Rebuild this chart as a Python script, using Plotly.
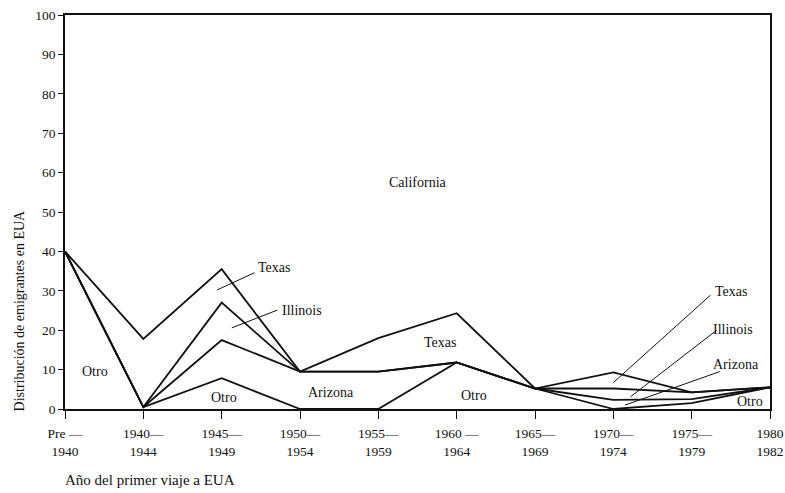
import plotly.graph_objects as go

# periodos (año del primer viaje)
periods = ["Pre-1940", "1940-1944", "1945-1949", "1950-1954", "1955-1959",
           "1960-1964", "1965-1969", "1970-1974", "1975-1979", "1980-1982"]
tick_labels = ["Pre —<br>1940", "1940—<br>1944", "1945—<br>1949", "1950—<br>1954",
               "1955—<br>1959", "1960 —<br>1964", "1965—<br>1969", "1970—<br>1974",
               "1975—<br>1979", "1980<br>1982"]

# límites acumulados entre regiones (porcentaje)
california_top_of_texas = [40, 17.8, 35.5, 9.5, 18, 24.3, 5.2, 9.3, 4.2, 5.5]
texas_top_of_illinois = [40, 0.5, 27, 9.5, 9.5, 11.8, 5.2, 5.2, 4.2, 5.5]
illinois_top_of_arizona = [40, 0.5, 17.5, 9.5, 9.5, 11.8, 5.2, 2.3, 2.5, 5.5]
arizona_top_of_otro = [40, 0.5, 7.8, 0, 0, 11.8, 5.2, 0, 1.5, 5.5]

xs = list(range(len(periods)))
serif = "Liberation Serif"
ink = "#111111"

fig = go.Figure()
for ys in [california_top_of_texas, texas_top_of_illinois,
           illinois_top_of_arizona, arizona_top_of_otro]:
    fig.add_trace(go.Scatter(x=xs, y=ys, mode="lines",
                             line=dict(color=ink, width=1.8),
                             showlegend=False, hoverinfo="skip", cliponaxis=False))

# etiquetas de regiones
labels = [
    ("California", 4.5, 57.4), ("Texas", 2.67, 35.8), ("Illinois", 3.02, 25.1),
    ("Otro", 0.38, 9.5), ("Otro", 2.03, 2.8), ("Arizona", 3.4, 4.3),
    ("Texas", 4.79, 16.8), ("Otro", 5.22, 3.4), ("Texas", 8.5, 29.8),
    ("Illinois", 8.53, 20.3), ("Arizona", 8.56, 11.3), ("Otro", 8.75, 1.8),
]
for txt, x, y in labels:
    fig.add_annotation(x=x, y=y, text=txt, showarrow=False,
                       font=dict(family=serif, size=14, color=ink))

# líneas guía
leaders = [
    (1.94, 30.2, 2.42, 34.6), (2.13, 20.6, 2.71, 25.1),
    (7.0, 6.7, 8.24, 28.9), (7.22, 3.1, 8.32, 20.0), (7.15, 1.0, 8.36, 9.5),
]
for x0, y0, x1, y1 in leaders:
    fig.add_shape(type="line", x0=x0, y0=y0, x1=x1, y1=y1, xref="x", yref="y",
                  line=dict(color=ink, width=1))

fig.add_annotation(xref="paper", yref="paper", x=-0.064, y=0.25,
                   xanchor="center", yanchor="middle",
                   text="Distribución de emigrantes en EUA", textangle=-90,
                   showarrow=False, font=dict(family=serif, size=14, color=ink))
fig.add_annotation(xref="paper", yref="paper", x=-0.003, y=-0.18,
                   xanchor="left", yanchor="middle",
                   text="Año del primer viaje a EUA",
                   showarrow=False, font=dict(family=serif, size=15, color=ink))

fig.update_layout(
    width=785, height=493,
    margin=dict(l=65, r=15, t=15, b=84),
    paper_bgcolor="white", plot_bgcolor="white",
    xaxis=dict(range=[0, 9], tickvals=xs, ticktext=tick_labels, showgrid=False,
               zeroline=False, showline=True, linecolor=ink, linewidth=1.8,
               mirror=True, ticks="outside", ticklen=8, tickcolor=ink,
               ticklabelstandoff=3, ticklabeloverflow="allow", automargin=False,
               tickfont=dict(family=serif, size=13.5, color=ink)),
    yaxis=dict(range=[0, 100], dtick=10, showgrid=False, zeroline=False,
               showline=True, linecolor=ink, linewidth=1.8, mirror=True,
               ticks="outside", ticklen=5, tickcolor=ink, automargin=False,
               tickfont=dict(family=serif, size=13.5, color=ink)),
)

fig.write_html("out.html", config={"displayModeBar": False},
               post_script="document.body.style.margin='0';")
